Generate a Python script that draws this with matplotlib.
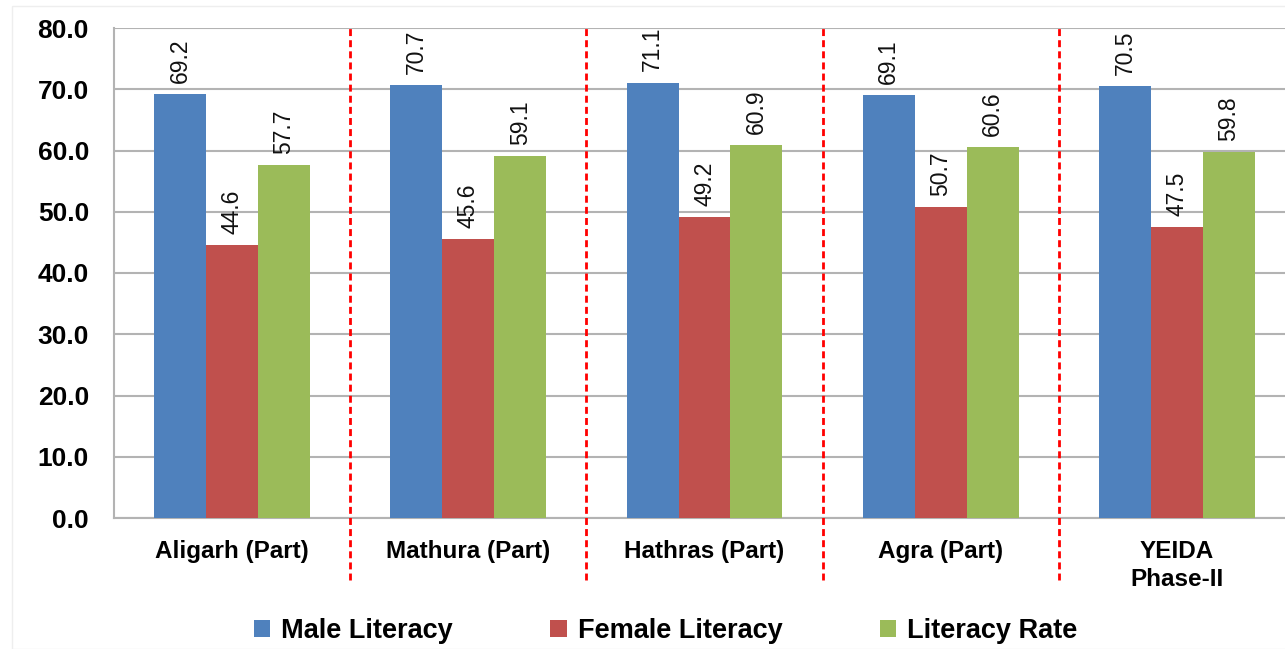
import numpy as np
import matplotlib.pyplot as plt
from matplotlib.patches import Rectangle

# literacy by district (%)
districts = ["Aligarh (Part)", "Mathura (Part)", "Hathras (Part)", "Agra (Part)", "YEIDA\nPhase-II"]
male = [69.2, 70.7, 71.1, 69.1, 70.5]
female = [44.6, 45.6, 49.2, 50.7, 47.5]
overall = [57.7, 59.1, 60.9, 60.6, 59.8]
series_names = ["Male Literacy", "Female Literacy", "Literacy Rate"]
colors = ["#4F81BD", "#C0504D", "#9BBB59"]

plt.rcParams['font.family'] = ['Liberation Sans', 'DejaVu Sans']

fig = plt.figure(figsize=(12.85, 6.49), dpi=100)
ax = fig.add_axes([114/1285, 131/649, 1181/1285, 490/649])

x = np.arange(len(districts))
w = 0.22
for k, vals in enumerate([male, female, overall]):
    pos = x + (k - 1) * w
    bars = ax.bar(pos, vals, w, color=colors[k], label=series_names[k], zorder=3)
    for b, v in zip(bars, vals):
        ax.text(b.get_x() + b.get_width()/2, v + 1.8, f"{v:.1f}", rotation=90,
                ha='center', va='bottom', fontsize=16.5, color='#111111', zorder=4)

ax.set_xlim(-0.5, len(districts) - 0.5)
ax.set_ylim(0, 80)
ax.set_yticks(np.arange(0, 81, 10))
ax.set_yticklabels([f"{t:.1f}" for t in np.arange(0, 81, 10)], fontsize=19, fontweight='bold')
ax.yaxis.grid(True, color='#b3b3b3', lw=1.5, zorder=0)
ax.tick_params(axis='y', length=0, pad=18)
ax.tick_params(axis='x', length=0, pad=16)
ax.set_xticks(x)
ax.set_xticklabels(districts, fontsize=17.5, fontweight='bold', linespacing=1.25)
for s in ['top', 'right']:
    ax.spines[s].set_visible(False)
for s in ['left', 'bottom']:
    ax.spines[s].set_color('#b3b3b3')
    ax.spines[s].set_linewidth(1.5)

# dashed separators between districts
for b in x[:-1] + 0.5:
    ax.plot([b, b], [-0.127, 1.0], transform=ax.get_xaxis_transform(), clip_on=False,
            color='#ff0000', ls=(0, (2.5, 1.5)), lw=2, zorder=5)

fig.legend(loc='center', bbox_to_anchor=(0.518, 1 - 631/649), ncol=3, frameon=False,
           prop={'size': 19.5, 'weight': 'bold'}, handlelength=0.6, handleheight=0.6,
           handletextpad=0.4, columnspacing=3.6)

fig.patches.append(Rectangle((12/1285, 0), 1.2, 1 - 6/649, transform=fig.transFigure,
                             fill=False, ec='#eeeeee', lw=1))

fig.savefig("out.png", dpi=100)
